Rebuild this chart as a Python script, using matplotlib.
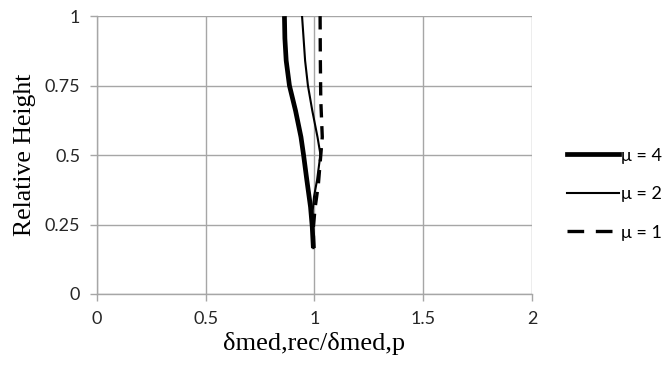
import matplotlib
matplotlib.use("Agg")
import matplotlib.pyplot as plt
from matplotlib.lines import Line2D

# Data
h4 = [1.0, 0.92, 0.84, 0.75, 0.66, 0.565, 0.50, 0.41, 0.313, 0.24, 0.165]
mu4 = [0.862, 0.864, 0.870, 0.885, 0.913, 0.938, 0.950, 0.965, 0.982, 0.990, 0.995]
h2 = [1.0, 0.92, 0.84, 0.75, 0.66, 0.565, 0.50, 0.475, 0.41, 0.35, 0.30, 0.24, 0.165]
mu2 = [0.943, 0.950, 0.957, 0.970, 0.990, 1.014, 1.028, 1.023, 1.012, 0.998, 0.992, 0.991, 0.995]
h1 = [1.0, 0.85, 0.70, 0.565, 0.48, 0.395, 0.31, 0.24, 0.165]
mu1 = [1.026, 1.027, 1.029, 1.036, 1.027, 1.018, 1.003, 0.995, 0.996]
labels = ["\u03bc = 4", "\u03bc = 2", "\u03bc = 1"]
xticks = [0, 0.5, 1, 1.5, 2]
yticks = [0, 0.25, 0.5, 0.75, 1]
ytick_labels = ["0", "0.25", "0.5", "0.75", "1"]
xtick_labels = ["0", "0.5", "1", "1.5", "2"]

fig = plt.figure(figsize=(6.62, 3.67), dpi=100)
ax = fig.add_axes([0.1465, 0.199, 0.657, 0.757])

grid_c = "#a6a6a6"
ax.plot(mu4, h4, color="black", lw=3.4, solid_capstyle="butt", solid_joinstyle="round", zorder=5)
ax.plot(mu2, h2, color="black", lw=1.5, solid_joinstyle="round", zorder=4)
ax.plot(mu1, h1, color="black", lw=2.4, dashes=(4.0, 2.6), zorder=3)

ax.set_xlim(0, 2)
ax.set_ylim(0, 1)
ax.set_xticks(xticks)
ax.set_yticks(yticks)
ax.set_xticklabels(xtick_labels, family="Lato", fontsize=13)
ax.set_yticklabels(ytick_labels, family="Lato", fontsize=13)
ax.grid(True, color=grid_c, lw=1.0)
ax.set_axisbelow(True)
for s in ["top", "right"]:
    ax.spines[s].set_visible(False)
for s in ["left", "bottom"]:
    ax.spines[s].set_color(grid_c)
    ax.spines[s].set_linewidth(1.0)
ax.tick_params(axis="both", direction="out", length=5, color=grid_c, width=1.0,
               labelcolor="#262626", pad=7)

ax.set_xlabel("\u03b4med,rec/\u03b4med,p", family="Liberation Serif", fontsize=19,
              labelpad=4)
ax.set_ylabel("Relative Height", family="Liberation Serif", fontsize=18.5, labelpad=6)

handles = [Line2D([], [], color="black", lw=3.4),
           Line2D([], [], color="black", lw=1.5),
           Line2D([], [], color="black", lw=2.4, dashes=(5.0, 3.5))]
leg = fig.legend(handles, labels, loc="center left", bbox_to_anchor=(0.856, 0.471),
                 frameon=False, handlelength=2.9, handletextpad=0.1,
                 borderpad=0, borderaxespad=0,
                 labelspacing=1.25, prop={"family": "Lato", "size": 13})

fig.savefig("out.png", dpi=100)
